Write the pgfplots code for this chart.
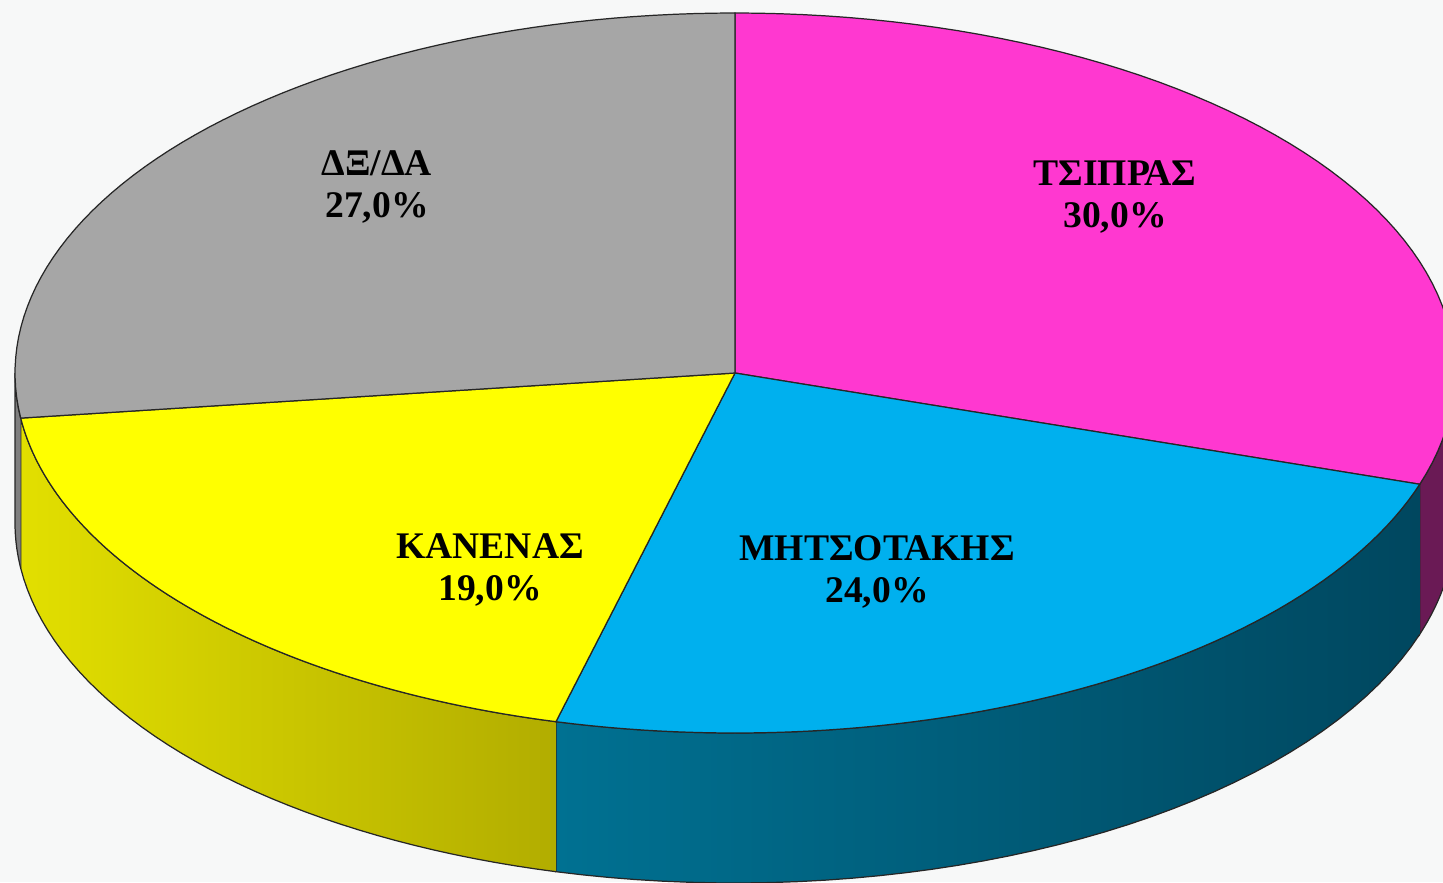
\documentclass[border=0pt]{standalone}
\usepackage{fontspec}
\setmainfont{Liberation Serif}
\usepackage{pgfplots}
\pgfplotsset{compat=1.18}
\usepackage{pgfplotstable}
\definecolor{pinkTop}{HTML}{FF38D0}
\definecolor{blueTop}{HTML}{00B0EE}
\definecolor{yellowTop}{HTML}{FFFF00}
\definecolor{grayTop}{HTML}{A6A6A6}
\definecolor{pinkSide}{HTML}{6A1A55}
\definecolor{blueSideL}{HTML}{007192}
\definecolor{blueSideR}{HTML}{00475F}
\definecolor{yellowSideL}{HTML}{E2DF00}
\definecolor{yellowSideR}{HTML}{B2AD00}
\definecolor{graySide}{HTML}{7F7F7F}
\definecolor{edge}{HTML}{262626}
\definecolor{bg}{HTML}{F7F8F8}

% shares in percent, clockwise from 12 o'clock
\pgfplotstableread{
share
30
24
19
27
}\votes

% pie geometry in pixel units: centre, radii, thickness
\def\cx{735}\def\cy{509}\def\rx{720}\def\ry{360}\def\dz{150}

% top face of one slice, from angle #1 to #2
\newcommand\sector[3]{%
  \addplot[fill=#3, draw=edge, line width=0.35pt, variable=\t, samples at={0,...,62}]
    ({ (\t<1 || \t>61) ? \cx : \cx+\rx*cos((#1)+(\t-1)/60*((#2)-(#1))) },
     { (\t<1 || \t>61) ? \cy : \cy+\ry*sin((#1)+(\t-1)/60*((#2)-(#1))) });
}
% front wall of one slice, from angle #1 to #2
\newcommand\wall[3]{%
  \addplot[#3, draw=edge, line width=0.35pt, variable=\t, samples at={0,...,81}]
    ({ \cx+\rx*cos( (\t<=40) ? ((#1)+\t/40*((#2)-(#1))) : ((#2)-(\t-41)/40*((#2)-(#1))) ) },
     { \cy+\ry*sin( (\t<=40) ? ((#1)+\t/40*((#2)-(#1))) : ((#2)-(\t-41)/40*((#2)-(#1))) )
        - ((\t>40) ? \dz : 0) });
}

\begin{document}
\begin{tikzpicture}
\pgfplotstablegetelem{0}{share}\of\votes \let\sA\pgfplotsretval
\pgfplotstablegetelem{1}{share}\of\votes \let\sB\pgfplotsretval
\pgfplotstablegetelem{2}{share}\of\votes \let\sC\pgfplotsretval
\pgfplotstablegetelem{3}{share}\of\votes \let\sD\pgfplotsretval
\pgfmathsetmacro{\aO}{90}
\pgfmathsetmacro{\aA}{\aO-3.6*\sA}
\pgfmathsetmacro{\aB}{\aA-3.6*\sB}
\pgfmathsetmacro{\aC}{\aB-3.6*\sC}
\pgfmathsetmacro{\aD}{\aC-3.6*\sD}
\begin{axis}[
  width=14.43cm, height=8.82cm, scale only axis,
  xmin=0, xmax=1443, ymin=0, ymax=882,
  axis lines=none, xtick=\empty, ytick=\empty,
  axis background/.style={fill=bg},
  clip=true,
]
% walls
\wall{0}{\aA}{fill=pinkSide}
\wall{\aA}{\aB}{left color=blueSideL, right color=blueSideR}
\wall{\aB}{\aC}{left color=yellowSideL, right color=yellowSideR}
\wall{\aC}{-180}{fill=graySide}
% top faces
\sector{\aO}{\aA}{pinkTop}
\sector{\aA}{\aB}{blueTop}
\sector{\aB}{\aC}{yellowTop}
\sector{\aC}{\aD}{grayTop}
% labels
\begin{scope}[every node/.style={align=center, inner sep=0pt,
    font=\fontsize{10.7}{12.2}\selectfont\bfseries}]
\node at (axis cs:1115,685) {ΤΣΙΠΡΑΣ\\30,0\%};
\node at (axis cs:877,310) {ΜΗΤΣΟΤΑΚΗΣ\\24,0\%};
\node at (axis cs:490,312) {ΚΑΝΕΝΑΣ\\19,0\%};
\node at (axis cs:377,695) {ΔΞ/ΔΑ\\27,0\%};
\end{scope}
\end{axis}
\pgfresetboundingbox
\useasboundingbox (current axis.south west) rectangle (current axis.north east);
\end{tikzpicture}
\end{document}
